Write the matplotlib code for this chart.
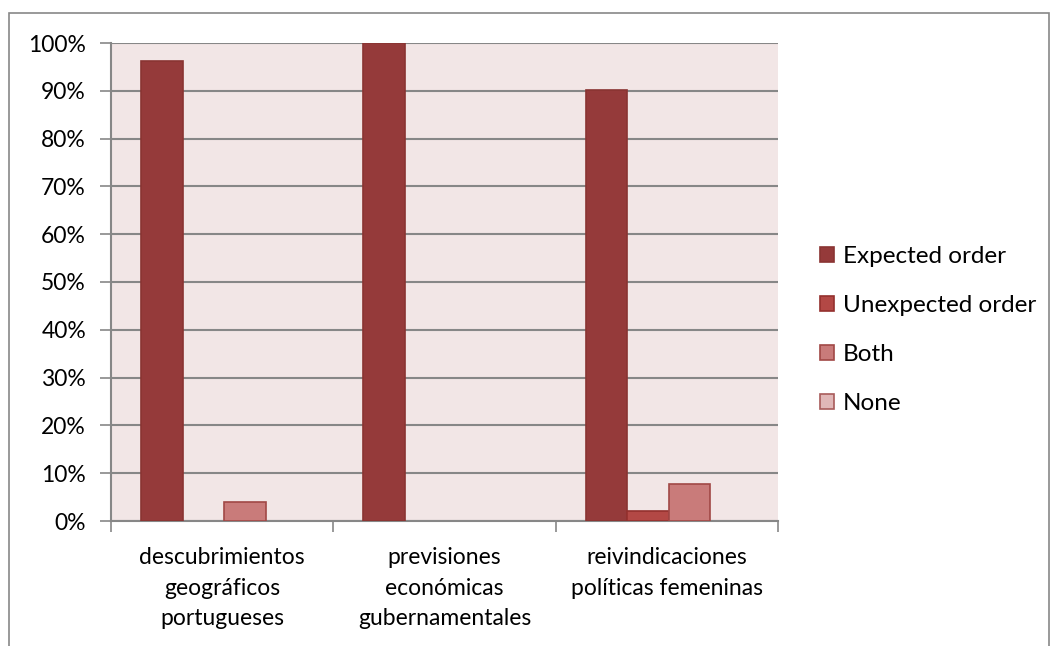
import matplotlib
matplotlib.use("Agg")
import matplotlib.pyplot as plt
import numpy as np
from matplotlib.patches import Rectangle, Patch

categories = ["descubrimientos\ngeográficos\nportugueses",
              "previsiones\neconómicas\ngubernamentales",
              "reivindicaciones\npolíticas femeninas"]
series_names = ["Expected order", "Unexpected order", "Both", "None"]
expected = [96.2, 100.0, 90.2]
unexpected = [0.0, 0.0, 2.1]
both = [4.0, 0.0, 7.8]
none = [0.0, 0.0, 0.0]
yticks = [0, 10, 20, 30, 40, 50, 60, 70, 80, 90, 100]

fills = ["#953A3A", "#B34845", "#C97B7A", "#E0B7B7"]
edges = ["#8A3432", "#94302E", "#A14846", "#A85B5A"]

FS = 16.5
plt.rcParams['font.family'] = ['Lato', 'DejaVu Sans']
fig = plt.figure(figsize=(10.51, 6.46), dpi=100)
ax = fig.add_axes([111/1051, 1-521/646, (778-111)/1051, (521-43)/646])
ax.set_facecolor("#F2E6E6")

x = np.arange(len(categories))
w = 0.187
start = 30/222.3 - 0.5 + w/2
pos = [start + i*w for i in range(4)]
for vals, f, e, p in zip([expected, unexpected, both, none], fills, edges, pos):
    vals = np.asarray(vals, dtype=float)
    m = vals > 0
    if m.any():
        ax.bar(x[m] + p, vals[m], width=w, color=f, edgecolor=e, linewidth=1.2, zorder=3)

ax.set_xlim(-0.5, 2.5)
ax.set_ylim(0, 100)
ax.set_yticks(yticks)
ax.set_yticklabels([f"{v}%" for v in yticks], fontsize=FS)
ax.yaxis.grid(True, color="#878787", linewidth=1.5, zorder=1)
ax.set_axisbelow(True)
ax.tick_params(axis='y', length=8, width=1.2, color="#878787", pad=10)
ax.set_xticks(x)
ax.set_xticklabels(categories, fontsize=FS, linespacing=1.55)
ax.set_xticks([-0.5, 0.5, 1.5, 2.5], minor=True)
ax.tick_params(axis='x', which='major', length=0, pad=19)
ax.tick_params(axis='x', which='minor', length=8, width=1.2, color="#878787")
for s in ['top', 'right']:
    ax.spines[s].set_visible(False)
ax.spines['left'].set_color("#878787")
ax.spines['left'].set_linewidth(1.5)
ax.spines['bottom'].set_color("#878787")
ax.spines['bottom'].set_linewidth(1.5)

handles = [Patch(facecolor=f, edgecolor=e, linewidth=1.2) for f, e in zip(fills, edges)]
leg = ax.legend(handles, series_names, loc='center left', bbox_to_anchor=(798/1051, 1-330/646),
                bbox_transform=fig.transFigure, frameon=False, fontsize=17.5,
                handlelength=0.6, handleheight=0.6, handletextpad=0.35, labelspacing=1.15)

fig.patches.append(Rectangle((9/1051, -0.05), (1049-9)/1051, 1-13/646+0.05, transform=fig.transFigure,
                             fill=False, edgecolor="#888888", linewidth=1.2))

fig.savefig("out.png", dpi=100)
